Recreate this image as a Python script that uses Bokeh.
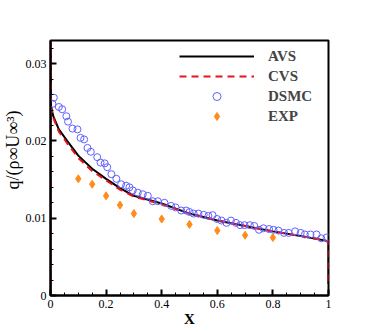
from bokeh.plotting import figure
from bokeh.models import Range1d, FixedTicker, Legend, LegendItem, Title
from bokeh.embed import file_html
from bokeh.resources import INLINE

# AVS curve
avs_x = [0.0, 0.0, 0.002, 0.01, 0.03, 0.06, 0.1, 0.15, 0.2, 0.25, 0.3, 0.4, 0.5, 0.6, 0.7, 0.8, 0.9, 0.99, 1.0, 1.0]
avs_y = [0.0, 0.033, 0.0245, 0.0232, 0.0215, 0.0200, 0.0181, 0.0164, 0.0151, 0.0139, 0.0129, 0.0119, 0.0106, 0.0097, 0.0090, 0.0083, 0.0077, 0.0071, 0.0069, 0.0015]
# CVS curve
cvs_x = [0.0, 0.0, 0.002, 0.01, 0.03, 0.06, 0.1, 0.15, 0.2, 0.25, 0.3, 0.4, 0.5, 0.6, 0.7, 0.8, 0.9, 0.99, 1.0, 1.0]
cvs_y = [0.0, 0.034, 0.0243, 0.0230, 0.0212, 0.0197, 0.0178, 0.0161, 0.0149, 0.0137, 0.0128, 0.0118, 0.0106, 0.0097, 0.0090, 0.0083, 0.0077, 0.0071, 0.0069, 0.0015]
# DSMC
dsmc_x = [0.007, 0.012, 0.03, 0.042, 0.057, 0.063, 0.079, 0.097, 0.108, 0.121, 0.133, 0.145,
          0.168, 0.18, 0.195, 0.204, 0.219, 0.237, 0.254, 0.272, 0.284, 0.296, 0.314, 0.332,
          0.35, 0.368, 0.386, 0.41, 0.434, 0.45, 0.47, 0.488, 0.5, 0.515, 0.532, 0.551, 0.568,
          0.583, 0.599, 0.615, 0.633, 0.649, 0.667, 0.682, 0.698, 0.717, 0.733, 0.75, 0.766,
          0.786, 0.802, 0.82, 0.84, 0.857, 0.88, 0.9, 0.915, 0.935, 0.957, 0.974, 0.993]
dsmc_y = [0.0248, 0.0256, 0.0244, 0.0241, 0.0232, 0.0225, 0.0216, 0.0215, 0.0204, 0.0202, 0.0191, 0.0186,
          0.0179, 0.0172, 0.0171, 0.0166, 0.0157, 0.0151, 0.0144, 0.0142, 0.0140, 0.0136, 0.0133, 0.0131,
          0.0129, 0.0122, 0.0122, 0.0120, 0.0116, 0.0114, 0.0110, 0.0110, 0.0108, 0.0106, 0.0106, 0.01044, 0.0103,
          0.0104, 0.0099, 0.0097, 0.0094, 0.0097, 0.0094, 0.0091, 0.0091, 0.0091, 0.0090, 0.0085, 0.0087,
          0.0086, 0.0085, 0.0084, 0.0081, 0.0081, 0.0083, 0.0081, 0.0079, 0.0079, 0.0079, 0.0074, 0.0075]
# EXP
exp_x = [0.1, 0.15, 0.2, 0.25, 0.3, 0.4, 0.5, 0.6, 0.7, 0.8]
exp_y = [0.0151, 0.0144, 0.0129, 0.0117, 0.0106, 0.0099, 0.0092, 0.0084, 0.0078, 0.0075]

x_ticks = [0, 0.2, 0.4, 0.6, 0.8, 1.0]
x_tick_labels = ["0", "0.2", "0.4", "0.6", "0.8", "1"]
y_ticks = [0, 0.01, 0.02, 0.03]
y_tick_labels = ["0", "0.01", "0.02", "0.03"]

FONT = "Liberation Serif"

p = figure(width=374, height=332, output_backend="svg", toolbar_location=None,
           x_range=Range1d(0, 1), y_range=Range1d(0, 0.033),
           min_border_left=49, min_border_top=40, min_border_right=46, min_border_bottom=37)
p.background_fill_color = "white"
p.border_fill_color = "white"
p.outline_line_color = "black"
p.outline_line_width = 2
p.xgrid.visible = False
p.ygrid.visible = False

x_minor = [i * 0.05 for i in range(21)]
y_minor = [i * 0.002 for i in range(17)]
p.xaxis.ticker = FixedTicker(ticks=x_ticks, minor_ticks=x_minor)
p.yaxis.ticker = FixedTicker(ticks=y_ticks, minor_ticks=y_minor)
p.xaxis.major_label_overrides = {t: l for t, l in zip(x_ticks, x_tick_labels)}
p.yaxis.major_label_overrides = {t: l for t, l in zip(y_ticks, y_tick_labels)}

for ax in (p.xaxis[0], p.yaxis[0]):
    ax.axis_line_width = 2
    ax.axis_line_color = "black"
    ax.major_tick_in = 6
    ax.major_tick_out = 0
    ax.minor_tick_in = 3
    ax.minor_tick_out = 0
    ax.major_tick_line_width = 2
    ax.minor_tick_line_width = 1
    ax.major_label_text_font = FONT
    ax.major_label_text_font_size = "12px"
    ax.major_label_text_color = "black"
    ax.major_label_standoff = 4

p.xaxis.axis_label = "X"
p.xaxis.axis_label_text_font = FONT
p.xaxis.axis_label_text_font_style = "bold"
p.xaxis.axis_label_text_font_size = "15px"
p.xaxis.axis_label_text_color = "black"
p.xaxis.axis_label_standoff = 0

r_avs = p.line(avs_x, avs_y, line_color="black", line_width=2)
r_cvs = p.line(cvs_x, cvs_y, line_color="#e8141a", line_width=2, line_dash="7 5")
r_dsmc = p.scatter(dsmc_x, dsmc_y, marker="circle", size=7, fill_color=None,
                   line_color="#6060ff", line_width=1)
r_exp = p.scatter(exp_x, exp_y, marker="diamond", size=8, fill_color="#ff8c1a",
                  line_color="#ff8c1a")

legend = Legend(items=[LegendItem(label="AVS", renderers=[r_avs]),
                       LegendItem(label="CVS", renderers=[r_cvs]),
                       LegendItem(label="DSMC", renderers=[r_dsmc]),
                       LegendItem(label="EXP", renderers=[r_exp])],
                location=(129, 169), padding=0, margin=0, spacing=0,
                glyph_width=75, glyph_height=20, label_height=20, label_standoff=14,
                label_text_font=FONT, label_text_font_style="bold",
                label_text_font_size="15px", border_line_color=None,
                background_fill_alpha=0)
p.add_layout(legend, "center")

ytitle = Title(text="q/(ρ∞U∞³)", align="left", offset=106, standoff=0,
               text_font=FONT, text_font_size="18px", text_font_style="normal",
               text_color="black")
p.add_layout(ytitle, "left")

open("out.html", "w").write(file_html(p, INLINE))
